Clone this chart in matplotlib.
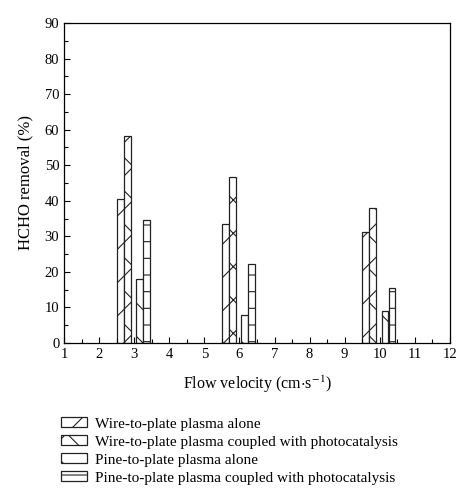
import numpy as np
import matplotlib.pyplot as plt
from matplotlib.patches import Patch

plt.rcParams['font.family'] = ['Liberation Serif', 'DejaVu Serif']
plt.rcParams['mathtext.fontset'] = 'stix'
plt.rcParams['hatch.linewidth'] = 0.8

# Datos
velocidades = [3, 6, 10]
series = ['Wire-to-plate plasma alone',
          'Wire-to-plate plasma coupled with photocatalysis',
          'Pine-to-plate plasma alone',
          'Pine-to-plate plasma coupled with photocatalysis']
wire_solo = [40.4, 33.6, 31.3]
wire_foto = [58.2, 46.7, 37.9]
pine_solo = [17.9, 7.9, 9.1]
pine_foto = [34.6, 22.1, 15.6]

valores = [wire_solo, wire_foto, pine_solo, pine_foto]
desplaz = [-0.4, -0.2, 0.15, 0.35]
tramas = ['/', '/\\', '\\', '-']
ancho = 0.19

fig = plt.figure(figsize=(4.72, 5.0), dpi=100)
ax = fig.add_axes([0.136, 0.314, 0.817, 0.64])

for vals, dx, h, nombre in zip(valores, desplaz, tramas, series):
    x = np.array(velocidades) + dx
    ax.bar(x, vals, width=ancho, facecolor='white', edgecolor='#222222',
           hatch=h, linewidth=0.9, label=nombre)

ax.set_xlim(1, 12)
ax.set_ylim(0, 90)
ax.set_xticks(range(1, 13))
ax.set_xticks(np.arange(1.5, 12, 1), minor=True)
ax.set_yticks(range(0, 91, 10))
ax.set_yticks(range(5, 90, 10), minor=True)
ax.tick_params(direction='in', labelsize=10.5, length=4, width=0.8)
ax.tick_params(which='minor', direction='in', length=3, width=0.8)
for s in ax.spines.values():
    s.set_linewidth(0.9)

ax.set_xlabel(r'Flow velocity (cm$\cdot$s$^{-1}$)', fontsize=11.5, labelpad=9)
ax.set_ylabel('HCHO removal (%)', fontsize=12, labelpad=8)

manejadores = [Patch(facecolor='white', edgecolor='#222222', hatch=h, linewidth=0.9)
               for h in tramas]
fig.legend(manejadores, series, loc='upper left', bbox_to_anchor=(0.117, 0.178),
           frameon=False, fontsize=11, handlelength=1.7, handleheight=0.65,
           labelspacing=0.3, handletextpad=0.5, borderaxespad=0)

fig.savefig('out.png', dpi=100)
